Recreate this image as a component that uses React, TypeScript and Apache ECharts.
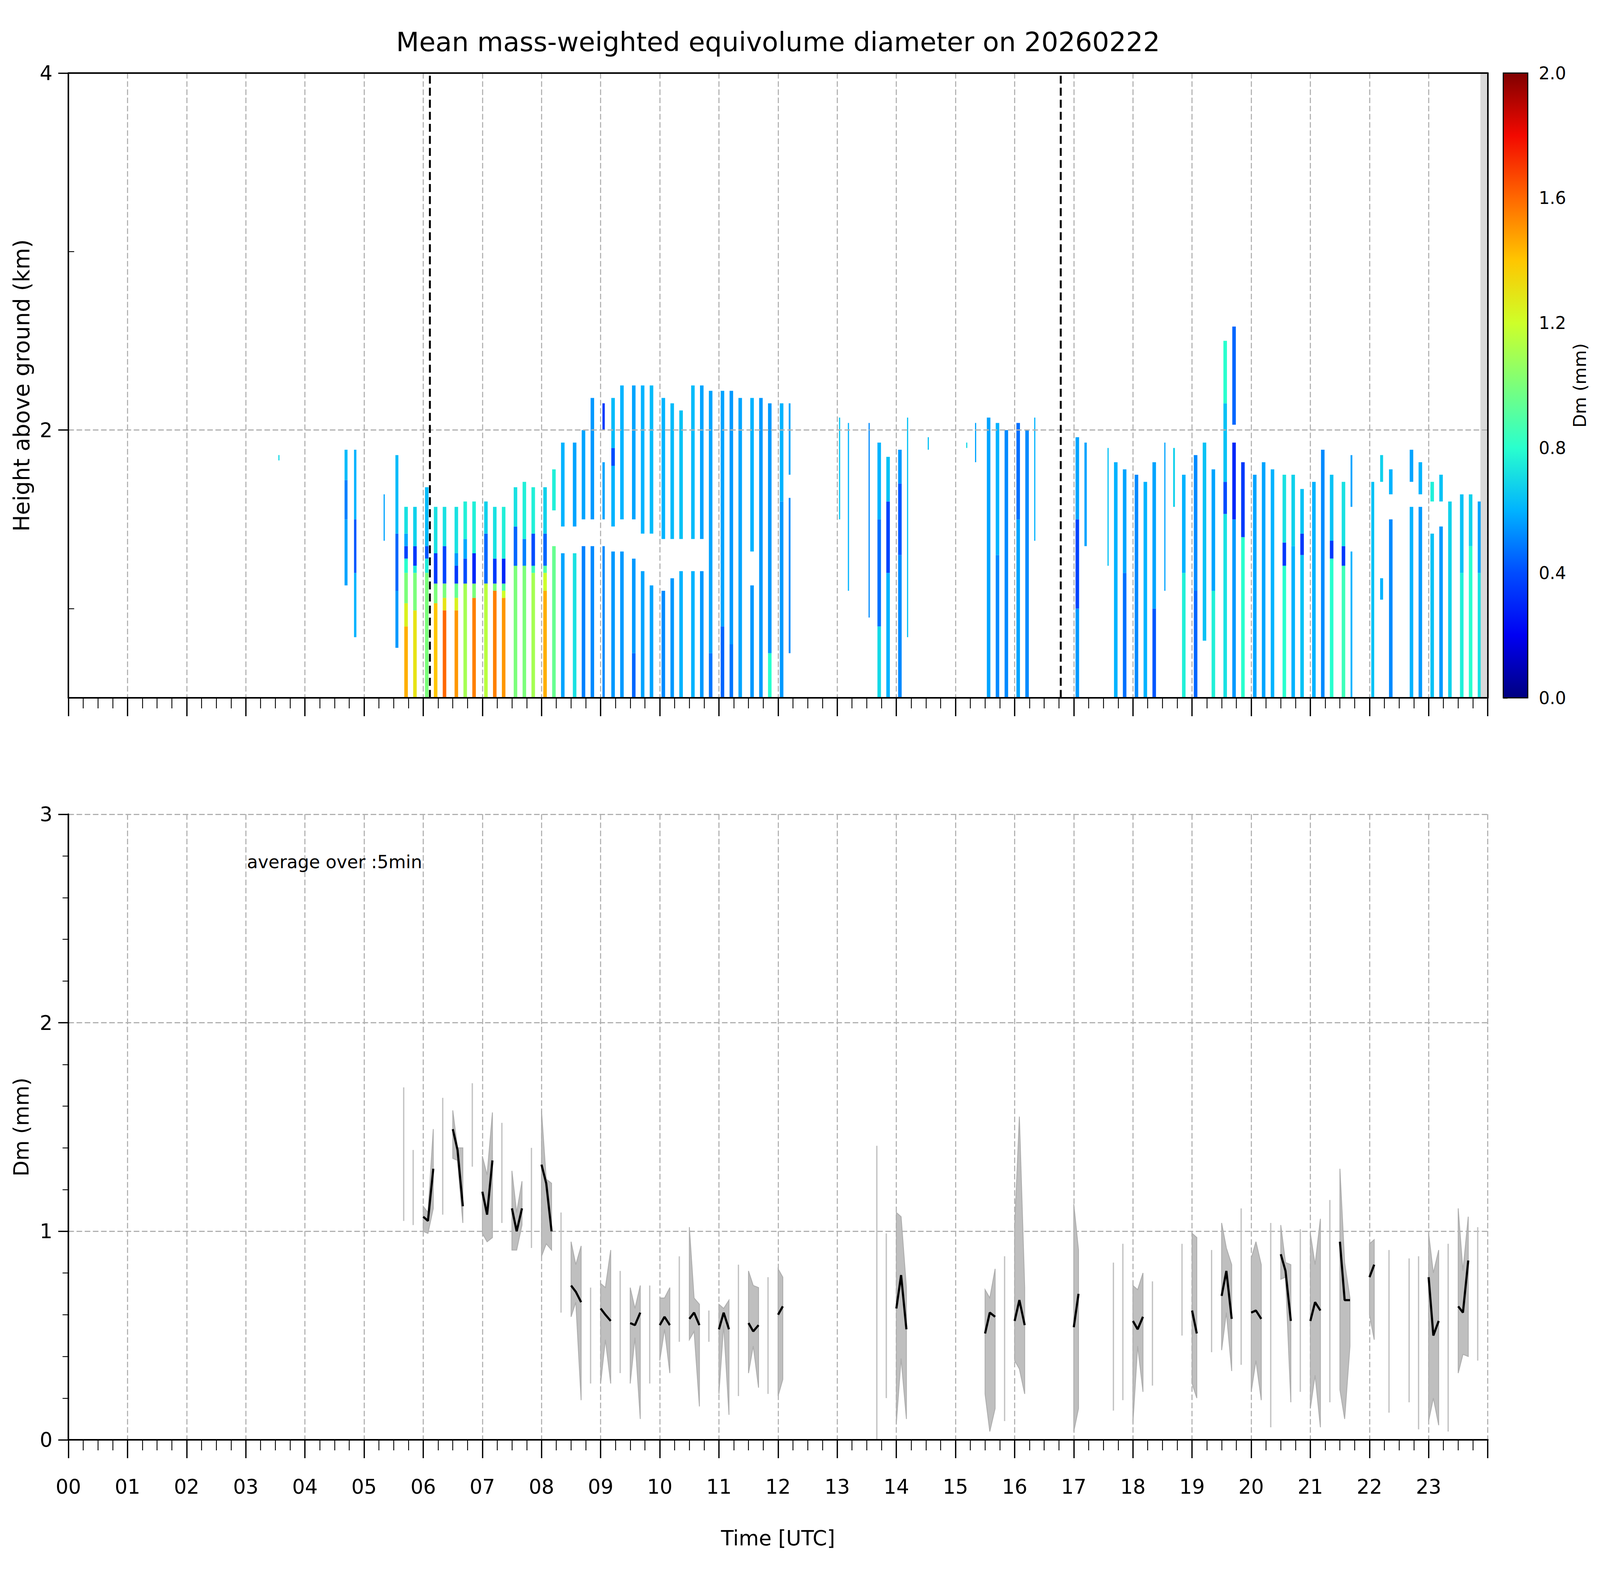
import { useEffect, useRef } from "react";
import * as echarts from "echarts";

const TITLE = "Mean mass-weighted equivolume diameter on 20260222";
const NOTE = "average over :5min";
const FONT = "DejaVu Sans, Verdana, sans-serif";

// radar scans: [start hour, end hour, [[bottom km, top km, Dm mm], ...]]
const profiles: [number, number, number[][]][] = [
  [3.55, 3.57, [[1.83, 1.86, 0.7]]],
  [4.67, 4.72, [[1.13, 1.5, 0.57], [1.5, 1.72, 0.5], [1.72, 1.89, 0.62]]],
  [4.83, 4.87, [[0.84, 1.2, 0.6], [1.2, 1.5, 0.42], [1.5, 1.89, 0.6]]],
  [5.33, 5.35, [[1.38, 1.64, 0.57]]],
  [5.53, 5.58, [[0.78, 1.1, 0.55], [1.1, 1.42, 0.45], [1.42, 1.86, 0.62]]],
  [5.68, 5.74, [[0.5, 0.9, 1.45], [0.9, 1.03, 1.25], [1.03, 1.2, 1.0], [1.2, 1.28, 0.8], [1.28, 1.35, 0.38], [1.35, 1.42, 0.58], [1.42, 1.57, 0.72]]],
  [5.83, 5.89, [[0.5, 0.99, 1.3], [0.99, 1.2, 1.0], [1.2, 1.24, 0.75], [1.24, 1.35, 0.35], [1.35, 1.57, 0.68]]],
  [6.03, 6.09, [[0.5, 1.2, 1.0], [1.2, 1.28, 0.75], [1.28, 1.35, 0.42], [1.35, 1.68, 0.62]]],
  [6.18, 6.24, [[0.5, 1.03, 1.4], [1.03, 1.14, 1.0], [1.14, 1.31, 0.35], [1.31, 1.57, 0.72]]],
  [6.33, 6.39, [[0.5, 0.99, 1.6], [0.99, 1.06, 1.3], [1.06, 1.14, 1.0], [1.14, 1.35, 0.38], [1.35, 1.57, 0.72]]],
  [6.53, 6.59, [[0.5, 0.99, 1.5], [0.99, 1.06, 1.25], [1.06, 1.14, 0.95], [1.14, 1.24, 0.35], [1.24, 1.31, 0.55], [1.31, 1.57, 0.72]]],
  [6.68, 6.74, [[0.5, 1.14, 1.1], [1.14, 1.28, 0.4], [1.28, 1.39, 0.58], [1.39, 1.6, 0.76]]],
  [6.83, 6.89, [[0.5, 1.06, 1.55], [1.06, 1.14, 1.0], [1.14, 1.31, 0.3], [1.31, 1.6, 0.76]]],
  [7.03, 7.09, [[0.5, 1.14, 1.15], [1.14, 1.42, 0.45], [1.42, 1.6, 0.68]]],
  [7.18, 7.24, [[0.5, 1.1, 1.55], [1.1, 1.14, 1.0], [1.14, 1.28, 0.35], [1.28, 1.57, 0.72]]],
  [7.33, 7.39, [[0.5, 1.06, 1.5], [1.06, 1.1, 1.2], [1.1, 1.14, 0.9], [1.14, 1.28, 0.3], [1.28, 1.57, 0.76]]],
  [7.53, 7.59, [[0.5, 1.24, 1.0], [1.24, 1.46, 0.45], [1.46, 1.68, 0.72]]],
  [7.68, 7.74, [[0.5, 1.24, 1.0], [1.24, 1.39, 0.5], [1.39, 1.71, 0.76]]],
  [7.83, 7.89, [[0.5, 1.2, 1.1], [1.2, 1.24, 0.85], [1.24, 1.42, 0.4], [1.42, 1.68, 0.76]]],
  [8.03, 8.09, [[0.5, 1.1, 1.45], [1.1, 1.2, 1.2], [1.2, 1.24, 0.9], [1.24, 1.42, 0.45], [1.42, 1.68, 0.68]]],
  [8.18, 8.24, [[0.5, 1.35, 0.95], [1.55, 1.78, 0.76]]],
  [8.33, 8.39, [[0.5, 1.31, 0.57], [1.46, 1.93, 0.6]]],
  [8.53, 8.59, [[0.5, 1.31, 0.72], [1.46, 1.93, 0.57]]],
  [8.68, 8.74, [[0.5, 1.35, 0.5], [1.5, 2.0, 0.57]]],
  [8.83, 8.89, [[0.5, 1.35, 0.52], [1.5, 2.18, 0.55]]],
  [9.03, 9.07, [[0.5, 1.35, 0.52], [1.5, 1.82, 0.57], [2.0, 2.15, 0.35]]],
  [9.18, 9.24, [[0.5, 1.32, 0.55], [1.46, 1.8, 0.6], [1.8, 1.9, 0.4], [1.9, 2.18, 0.62]]],
  [9.33, 9.39, [[0.5, 1.32, 0.55], [1.5, 2.25, 0.6]]],
  [9.53, 9.59, [[0.5, 0.75, 0.45], [0.75, 1.28, 0.55], [1.5, 2.25, 0.57]]],
  [9.68, 9.74, [[0.5, 1.21, 0.57], [1.42, 2.25, 0.6]]],
  [9.83, 9.89, [[0.5, 1.13, 0.57], [1.42, 2.25, 0.62]]],
  [10.03, 10.09, [[0.5, 1.1, 0.52], [1.39, 2.18, 0.6]]],
  [10.18, 10.24, [[0.5, 1.17, 0.55], [1.39, 2.15, 0.62]]],
  [10.33, 10.39, [[0.5, 1.21, 0.6], [1.39, 2.11, 0.64]]],
  [10.53, 10.59, [[0.5, 1.21, 0.6], [1.39, 2.25, 0.62]]],
  [10.68, 10.74, [[0.5, 1.21, 0.55], [1.39, 2.25, 0.57]]],
  [10.83, 10.89, [[0.5, 0.75, 0.48], [0.75, 2.22, 0.57]]],
  [11.03, 11.09, [[0.5, 0.9, 0.45], [0.9, 2.22, 0.57]]],
  [11.18, 11.24, [[0.5, 0.8, 0.48], [0.8, 2.22, 0.55]]],
  [11.33, 11.39, [[0.5, 2.18, 0.57]]],
  [11.53, 11.59, [[0.5, 1.13, 0.55], [1.32, 2.18, 0.6]]],
  [11.68, 11.74, [[0.5, 2.18, 0.55]]],
  [11.83, 11.89, [[0.5, 0.75, 0.8], [0.75, 2.15, 0.55]]],
  [12.03, 12.09, [[0.5, 1.6, 0.55], [1.6, 2.15, 0.6]]],
  [12.18, 12.21, [[0.75, 1.62, 0.52], [1.75, 2.15, 0.57]]],
  [13.03, 13.05, [[1.5, 2.07, 0.65]]],
  [13.18, 13.2, [[1.1, 2.04, 0.6]]],
  [13.53, 13.55, [[0.95, 2.04, 0.52]]],
  [13.68, 13.74, [[0.5, 0.9, 0.7], [0.9, 1.5, 0.47], [1.5, 1.93, 0.6]]],
  [13.83, 13.89, [[0.5, 1.2, 0.6], [1.2, 1.6, 0.38], [1.6, 1.85, 0.64]]],
  [14.03, 14.09, [[0.5, 1.3, 0.52], [1.3, 1.7, 0.42], [1.7, 1.89, 0.55]]],
  [14.18, 14.2, [[0.84, 2.07, 0.64]]],
  [14.53, 14.55, [[1.89, 1.96, 0.64]]],
  [15.18, 15.2, [[1.9, 1.93, 0.7]]],
  [15.33, 15.35, [[1.82, 2.04, 0.57]]],
  [15.53, 15.59, [[0.5, 2.07, 0.57]]],
  [15.68, 15.74, [[0.5, 1.3, 0.52], [1.3, 2.04, 0.6]]],
  [15.83, 15.89, [[0.5, 2.0, 0.52]]],
  [16.03, 16.09, [[0.5, 1.5, 0.57], [1.5, 2.04, 0.47]]],
  [16.18, 16.24, [[0.5, 2.0, 0.52]]],
  [16.33, 16.35, [[1.38, 2.07, 0.6]]],
  [17.03, 17.09, [[0.5, 1.0, 0.55], [1.0, 1.5, 0.38], [1.5, 1.96, 0.57]]],
  [17.18, 17.22, [[1.35, 1.93, 0.57]]],
  [17.57, 17.59, [[1.24, 1.9, 0.64]]],
  [17.68, 17.74, [[0.5, 1.82, 0.6]]],
  [17.83, 17.89, [[0.5, 1.2, 0.47], [1.2, 1.78, 0.57]]],
  [18.03, 18.09, [[0.5, 1.75, 0.52]]],
  [18.18, 18.24, [[0.5, 1.71, 0.6]]],
  [18.33, 18.39, [[0.5, 1.0, 0.42], [1.0, 1.82, 0.57]]],
  [18.53, 18.55, [[1.1, 1.93, 0.57]]],
  [18.68, 18.71, [[1.57, 1.9, 0.68]]],
  [18.83, 18.89, [[0.5, 1.2, 0.76], [1.2, 1.75, 0.6]]],
  [19.03, 19.09, [[0.5, 1.1, 0.45], [1.1, 1.86, 0.52]]],
  [19.18, 19.24, [[0.82, 1.93, 0.64]]],
  [19.33, 19.39, [[0.5, 1.1, 0.76], [1.1, 1.78, 0.57]]],
  [19.53, 19.59, [[0.5, 1.53, 0.72], [1.53, 1.71, 0.4], [1.71, 2.15, 0.64], [2.15, 2.5, 0.8]]],
  [19.68, 19.74, [[0.5, 1.5, 0.55], [1.5, 1.93, 0.3], [2.03, 2.58, 0.45]]],
  [19.83, 19.89, [[0.5, 1.4, 0.8], [1.4, 1.82, 0.35]]],
  [20.03, 20.09, [[0.5, 1.75, 0.57]]],
  [20.18, 20.24, [[0.5, 1.82, 0.57]]],
  [20.33, 20.39, [[0.5, 1.78, 0.6]]],
  [20.53, 20.59, [[0.5, 1.24, 0.8], [1.24, 1.37, 0.35], [1.37, 1.75, 0.72]]],
  [20.68, 20.74, [[0.5, 1.35, 0.6], [1.35, 1.75, 0.68]]],
  [20.83, 20.89, [[0.5, 1.3, 0.64], [1.3, 1.42, 0.35], [1.42, 1.67, 0.64]]],
  [21.03, 21.09, [[0.5, 1.71, 0.6]]],
  [21.18, 21.24, [[0.5, 1.89, 0.52]]],
  [21.33, 21.39, [[0.5, 1.28, 0.8], [1.28, 1.38, 0.35], [1.38, 1.75, 0.64]]],
  [21.53, 21.59, [[0.5, 1.24, 0.85], [1.24, 1.35, 0.35], [1.35, 1.71, 0.72]]],
  [21.68, 21.71, [[0.5, 1.32, 0.6], [1.57, 1.86, 0.57]]],
  [22.03, 22.08, [[0.5, 1.71, 0.64]]],
  [22.18, 22.23, [[1.05, 1.17, 0.6], [1.71, 1.86, 0.68]]],
  [22.33, 22.39, [[0.5, 1.5, 0.52], [1.64, 1.78, 0.6]]],
  [22.68, 22.74, [[0.5, 1.57, 0.6], [1.71, 1.89, 0.57]]],
  [22.83, 22.89, [[0.5, 1.57, 0.55], [1.64, 1.82, 0.6]]],
  [23.03, 23.09, [[0.5, 1.42, 0.64], [1.6, 1.71, 0.76]]],
  [23.18, 23.24, [[0.5, 1.46, 0.55], [1.6, 1.75, 0.64]]],
  [23.33, 23.39, [[0.5, 1.6, 0.68]]],
  [23.53, 23.59, [[0.5, 1.2, 0.76], [1.2, 1.64, 0.64]]],
  [23.68, 23.74, [[0.5, 1.35, 0.8], [1.35, 1.64, 0.68]]],
  [23.83, 23.88, [[0.5, 1.2, 0.72], [1.2, 1.6, 0.57]]],
];

// 5 min averages: [hour, mean (null when alone), low, high]
const dmSamples: [number, number | null, number, number][] = [
  [5.67, null, 1.05, 1.69], [5.83, null, 1.03, 1.39],
  [6.0, 1.07, 1.0, 1.12], [6.08, 1.05, 0.99, 1.09], [6.17, 1.3, 1.11, 1.49],
  [6.33, null, 1.08, 1.64],
  [6.5, 1.49, 1.35, 1.58], [6.58, 1.39, 1.34, 1.4], [6.67, 1.12, 1.04, 1.4],
  [6.83, null, 1.31, 1.71],
  [7.0, 1.19, 0.99, 1.36], [7.08, 1.08, 0.95, 1.27], [7.17, 1.34, 0.97, 1.57],
  [7.33, null, 1.04, 1.52],
  [7.5, 1.11, 0.91, 1.29], [7.58, 1.0, 0.91, 1.09], [7.67, 1.11, 1.03, 1.24],
  [7.83, null, 0.92, 1.4],
  [8.0, 1.32, 0.88, 1.58], [8.08, 1.23, 0.94, 1.25], [8.17, 1.0, 0.91, 1.23],
  [8.33, null, 0.61, 1.09],
  [8.5, 0.74, 0.59, 0.95], [8.58, 0.71, 0.66, 0.84], [8.67, 0.66, 0.19, 0.93],
  [8.83, null, 0.27, 0.73],
  [9.0, 0.63, 0.27, 0.75], [9.08, 0.6, 0.48, 0.73], [9.17, 0.57, 0.27, 0.91],
  [9.33, null, 0.32, 0.81],
  [9.5, 0.56, 0.27, 0.73], [9.58, 0.55, 0.49, 0.63], [9.67, 0.61, 0.1, 0.74],
  [9.83, null, 0.27, 0.74],
  [10.0, 0.55, 0.38, 0.68], [10.08, 0.59, 0.53, 0.68], [10.17, 0.55, 0.32, 0.73],
  [10.33, null, 0.47, 0.88],
  [10.5, 0.58, 0.48, 1.02], [10.58, 0.61, 0.52, 0.68], [10.67, 0.55, 0.16, 0.65],
  [10.83, null, 0.47, 0.62],
  [11.0, 0.53, 0.22, 0.65], [11.08, 0.61, 0.55, 0.63], [11.17, 0.53, 0.12, 0.67],
  [11.33, null, 0.21, 0.84],
  [11.5, 0.56, 0.32, 0.81], [11.58, 0.52, 0.45, 0.74], [11.67, 0.55, 0.25, 0.73],
  [11.83, null, 0.22, 0.78],
  [12.0, 0.6, 0.21, 0.82], [12.08, 0.64, 0.29, 0.78],
  [13.67, null, 0.0, 1.41], [13.83, null, 0.2, 0.99],
  [14.0, 0.63, 0.08, 1.09], [14.08, 0.79, 0.39, 1.07], [14.17, 0.53, 0.1, 0.73],
  [15.5, 0.51, 0.22, 0.72], [15.58, 0.61, 0.04, 0.68], [15.67, 0.59, 0.15, 0.82],
  [15.83, null, 0.09, 0.88],
  [16.0, 0.57, 0.38, 1.02], [16.08, 0.67, 0.34, 1.55], [16.17, 0.55, 0.22, 0.73],
  [17.0, 0.54, 0.04, 1.13], [17.08, 0.7, 0.15, 0.91],
  [17.67, null, 0.14, 0.85], [17.83, null, 0.19, 0.94],
  [18.0, 0.57, 0.08, 0.74], [18.08, 0.53, 0.45, 0.72], [18.17, 0.59, 0.23, 0.8],
  [18.33, null, 0.26, 0.76], [18.83, null, 0.5, 0.94],
  [19.0, 0.62, 0.27, 0.99], [19.08, 0.51, 0.2, 0.97],
  [19.33, null, 0.42, 0.91],
  [19.5, 0.69, 0.43, 1.04], [19.58, 0.81, 0.61, 0.92], [19.67, 0.58, 0.33, 0.84],
  [19.83, null, 0.36, 1.11],
  [20.0, 0.61, 0.23, 0.87], [20.08, 0.62, 0.38, 0.95], [20.17, 0.58, 0.19, 0.84],
  [20.33, null, 0.06, 1.04],
  [20.5, 0.89, 0.77, 1.03], [20.58, 0.81, 0.78, 0.85], [20.67, 0.57, 0.18, 0.84],
  [20.83, null, 0.23, 1.01],
  [21.0, 0.57, 0.15, 0.99], [21.08, 0.66, 0.31, 0.84], [21.17, 0.62, 0.06, 1.06],
  [21.33, null, 0.18, 1.15],
  [21.5, 0.95, 0.24, 1.3], [21.58, 0.67, 0.1, 0.85], [21.67, 0.67, 0.45, 0.68],
  [22.0, 0.78, 0.6, 0.94], [22.08, 0.84, 0.48, 0.96],
  [22.33, null, 0.13, 0.91], [22.67, null, 0.18, 0.87], [22.83, null, 0.05, 0.88],
  [23.0, 0.78, 0.09, 0.99], [23.08, 0.5, 0.2, 0.8], [23.17, 0.57, 0.07, 0.91],
  [23.33, null, 0.04, 0.94],
  [23.5, 0.64, 0.32, 1.11], [23.58, 0.61, 0.41, 0.81], [23.67, 0.86, 0.4, 1.07],
  [23.83, null, 0.38, 1.02],
];

const eventHours = [6.11, 16.78];
const missingSpan = [23.875, 24];
const heightLabelTicks = [2, 4];
const heightMinorTicks = [1, 3];
const heightGridLines = [2];
const noteAt = [3.02, 2.77];
const jetColors = ["#000080", "#0000f3", "#004cff", "#00b3ff", "#29ffce", "#7bff7b", "#ceff29", "#ffc600", "#ff6800", "#f30900", "#800000"];

// the reference figure is 7442 x 4031; the layout is written in that space and scaled to the page
const REF_W = 7442;
const REF_H = 4031;

function buildOption(width: number, height: number) {
  const kx = width / REF_W;
  const ky = height / REF_H;
  const kf = Math.min(kx, ky);
  const X = (v: number) => v * kx;
  const Y = (v: number) => v * ky;
  const F = (v: number) => v * kf;

  const gridLine = { color: "#b0b0b0", width: F(5), type: [F(26), F(12)] };
  const spine = { color: "#000", width: F(7) };
  const xMajorTick = { length: Y(47), lineStyle: { color: "#000", width: F(6) } };
  const xMinorTick = { length: Y(27), lineStyle: { color: "#000", width: F(4) } };
  const yMajorTick = { length: X(47), lineStyle: { color: "#000", width: F(6) } };
  const yMinorTick = { length: X(27), lineStyle: { color: "#000", width: F(4) } };

  const layerRows = profiles.flatMap(([t0, t1, layers]) => layers.map(([h0, h1, dm]) => [t0, t1, h0, h1, dm]));

  const groups: [number, number][] = [];
  dmSamples.forEach((sample, i) => {
    const last = groups[groups.length - 1];
    if (last && sample[0] - dmSamples[last[1]][0] < 0.1) {
      last[1] = i;
    } else {
      groups.push([i, i]);
    }
  });
  const bandRows = groups.map(([s, e]) => [dmSamples[s][0], dmSamples[s][2], s, e]);
  const meanLine: (number | null)[][] = [];
  groups.forEach(([s, e], gi) => {
    if (gi > 0) {
      meanLine.push([dmSamples[s][0] - 0.04, null]);
    }
    for (let i = s; i <= e; i++) {
      meanLine.push([dmSamples[i][0], dmSamples[i][1]]);
    }
  });

  const hourAxis = {
    type: "value",
    min: 0,
    max: 24,
    interval: 1,
    axisLine: { lineStyle: spine },
    axisTick: xMajorTick,
    minorTick: { show: true, splitNumber: 4, ...xMinorTick },
    splitLine: { show: true, lineStyle: gridLine },
  };
  // top and right spines, drawn above the grid lines
  const frameX = (gridIndex: number) => ({
    type: "value",
    gridIndex,
    position: "top",
    min: 0,
    max: 24,
    z: 12,
    axisLine: { show: true, lineStyle: spine },
    axisTick: { show: false },
    axisLabel: { show: false },
    splitLine: { show: false },
  });
  const frameY = (gridIndex: number, min: number, max: number) => ({
    type: "value",
    gridIndex,
    position: "right",
    min,
    max,
    z: 12,
    axisLine: { show: true, lineStyle: spine },
    axisTick: { show: false },
    axisLabel: { show: false },
    splitLine: { show: false },
  });

  return {
    animation: false,
    backgroundColor: "#fff",
    textStyle: { fontFamily: FONT, color: "#000" },
    graphic: [
      {
        type: "text",
        x: X(3619),
        y: Y(107),
        style: { text: TITLE, fontSize: F(124), fontFamily: FONT, fill: "#000", align: "center", verticalAlign: "middle" },
      },
    ],
    visualMap: {
      type: "continuous",
      show: false,
      min: 0,
      max: 2,
      dimension: 4,
      seriesIndex: 0,
      inRange: { color: jetColors },
    },
    grid: [
      { left: X(318), top: Y(187), width: X(6602), height: Y(1599) },
      { left: X(318), top: Y(2084), width: X(6602), height: Y(1601) },
      { left: X(6992), top: Y(187), width: X(114), height: Y(1599) },
    ],
    xAxis: [
      { ...hourAxis, gridIndex: 0, z: 10, axisLabel: { show: false } },
      {
        ...hourAxis,
        gridIndex: 1,
        axisLabel: {
          fontSize: F(93),
          color: "#000",
          margin: Y(120) - F(46),
          formatter: (v: number) => (v < 24 ? String(v).padStart(2, "0") : ""),
        },
        name: "Time [UTC]",
        nameLocation: "middle",
        nameGap: Y(251) - F(48),
        nameTextStyle: { fontSize: F(96), color: "#000" },
      },
      { type: "value", gridIndex: 2, min: 0, max: 1, show: false },
      frameX(0),
      frameX(1),
    ],
    yAxis: [
      {
        type: "value",
        gridIndex: 0,
        min: 0.5,
        max: 4,
        interval: 0.5,
        z: 10,
        axisLine: { show: true, lineStyle: spine },
        axisTick: { show: true, customValues: heightLabelTicks, ...yMajorTick },
        axisLabel: { customValues: heightLabelTicks, fontSize: F(93), color: "#000", margin: X(74) },
        splitLine: { show: false },
        name: "Height above ground (km)",
        nameLocation: "middle",
        nameGap: X(218) - F(52),
        nameTextStyle: { fontSize: F(103), color: "#000" },
      },
      {
        type: "value",
        gridIndex: 0,
        min: 0.5,
        max: 4,
        interval: 0.5,
        z: 10,
        axisLine: { show: false },
        axisTick: { show: true, customValues: heightMinorTicks, ...yMinorTick },
        axisLabel: { show: false },
        splitLine: { show: false },
      },
      {
        type: "value",
        gridIndex: 1,
        min: 0,
        max: 3,
        interval: 1,
        axisLine: { show: true, lineStyle: spine },
        axisTick: { show: true, ...yMajorTick },
        minorTick: { show: true, splitNumber: 5, ...yMinorTick },
        axisLabel: { fontSize: F(93), color: "#000", margin: X(74) },
        splitLine: { show: true, lineStyle: gridLine },
        name: "Dm (mm)",
        nameLocation: "middle",
        nameGap: X(218) - F(48),
        nameTextStyle: { fontSize: F(96), color: "#000" },
      },
      {
        type: "value",
        gridIndex: 2,
        position: "right",
        min: 0,
        max: 2,
        interval: 0.4,
        axisLine: { show: false },
        axisTick: { show: true, length: X(20), lineStyle: { color: "#000", width: F(5) } },
        axisLabel: { fontSize: F(80), color: "#000", margin: X(51), formatter: (v: number) => v.toFixed(1) },
        splitLine: { show: false },
        name: "Dm (mm)",
        nameLocation: "middle",
        nameRotate: 90,
        nameGap: X(242) - F(41),
        nameTextStyle: { fontSize: F(82), color: "#000" },
      },
      frameY(0, 0.5, 4),
      frameY(1, 0, 3),
    ],
    series: [
      {
        type: "custom",
        name: "profile",
        xAxisIndex: 0,
        yAxisIndex: 0,
        clip: true,
        encode: { x: [0, 1], y: [2, 3] },
        data: layerRows,
        renderItem: (_params: unknown, api: any) => {
          const p0 = api.coord([api.value(0), api.value(3)]);
          const p1 = api.coord([api.value(1), api.value(2)]);
          return {
            type: "rect",
            shape: { x: p0[0], y: p0[1], width: p1[0] - p0[0], height: p1[1] - p0[1] },
            style: { fill: api.visual("color") },
          };
        },
        markArea: {
          silent: true,
          itemStyle: { color: "#d9d9d9" },
          data: [[{ xAxis: missingSpan[0] }, { xAxis: missingSpan[1] }]],
        },
        markLine: {
          silent: true,
          symbol: ["none", "none"],
          label: { show: false },
          data: [
            ...heightGridLines.map((h) => ({ yAxis: h, lineStyle: gridLine })),
            ...eventHours.map((t) => ({ xAxis: t, lineStyle: { color: "#000", width: F(9), type: [F(37), F(19)] } })),
          ],
        },
      },
      {
        type: "custom",
        name: "colorbar",
        xAxisIndex: 2,
        yAxisIndex: 3,
        data: [[0, 2]],
        renderItem: (_params: unknown, api: any) => {
          const p0 = api.coord([0, 2]);
          const p1 = api.coord([1, 0]);
          return {
            type: "rect",
            shape: { x: p0[0], y: p0[1], width: p1[0] - p0[0], height: p1[1] - p0[1] },
            style: {
              fill: new echarts.graphic.LinearGradient(
                0, 1, 0, 0,
                jetColors.map((color, i) => ({ offset: i / (jetColors.length - 1), color })),
              ),
              stroke: "#000",
              lineWidth: F(5),
            },
          };
        },
      },
      {
        type: "custom",
        name: "range",
        xAxisIndex: 1,
        yAxisIndex: 2,
        data: bandRows,
        renderItem: (_params: unknown, api: any) => {
          const s = api.value(2);
          const e = api.value(3);
          if (s === e) {
            const [t, , lo, hi] = dmSamples[s];
            const a = api.coord([t, lo]);
            const b = api.coord([t, hi]);
            return {
              type: "line",
              shape: { x1: a[0], y1: a[1], x2: b[0], y2: b[1] },
              style: { stroke: "#c2c2c2", lineWidth: F(6) },
            };
          }
          const points: number[][] = [];
          for (let i = s; i <= e; i++) points.push(api.coord([dmSamples[i][0], dmSamples[i][3]]));
          for (let i = e; i >= s; i--) points.push(api.coord([dmSamples[i][0], dmSamples[i][2]]));
          return {
            type: "polygon",
            shape: { points },
            style: { fill: "#bfbfbf", stroke: "#adadad", lineWidth: F(4) },
          };
        },
      },
      {
        type: "line",
        name: "mean",
        xAxisIndex: 1,
        yAxisIndex: 2,
        data: meanLine,
        showSymbol: false,
        connectNulls: false,
        lineStyle: { color: "#000", width: F(10) },
        itemStyle: { color: "#000" },
        z: 4,
      },
      {
        type: "custom",
        name: "note",
        xAxisIndex: 1,
        yAxisIndex: 2,
        data: [noteAt],
        renderItem: (_params: unknown, api: any) => {
          const p = api.coord([api.value(0), api.value(1)]);
          return {
            type: "text",
            x: p[0],
            y: p[1],
            style: { text: NOTE, fontSize: F(83), fontFamily: FONT, fill: "#000", align: "left", verticalAlign: "middle" },
          };
        },
      },
    ],
  };
}

export default function App() {
  const rootRef = useRef<HTMLDivElement | null>(null);

  useEffect(() => {
    const el = rootRef.current;
    if (!el) {
      return;
    }
    const width = el.clientWidth || REF_W;
    const height = el.clientHeight || REF_H;
    const chart = echarts.init(el, undefined, { renderer: "svg", width, height });
    chart.setOption(buildOption(width, height) as any);
    return () => {
      chart.dispose();
    };
  }, []);

  return (
    <div
      ref={rootRef}
      style={{ position: "fixed", left: 0, top: 0, width: "100vw", height: "100vh", background: "#fff" }}
    />
  );
}
